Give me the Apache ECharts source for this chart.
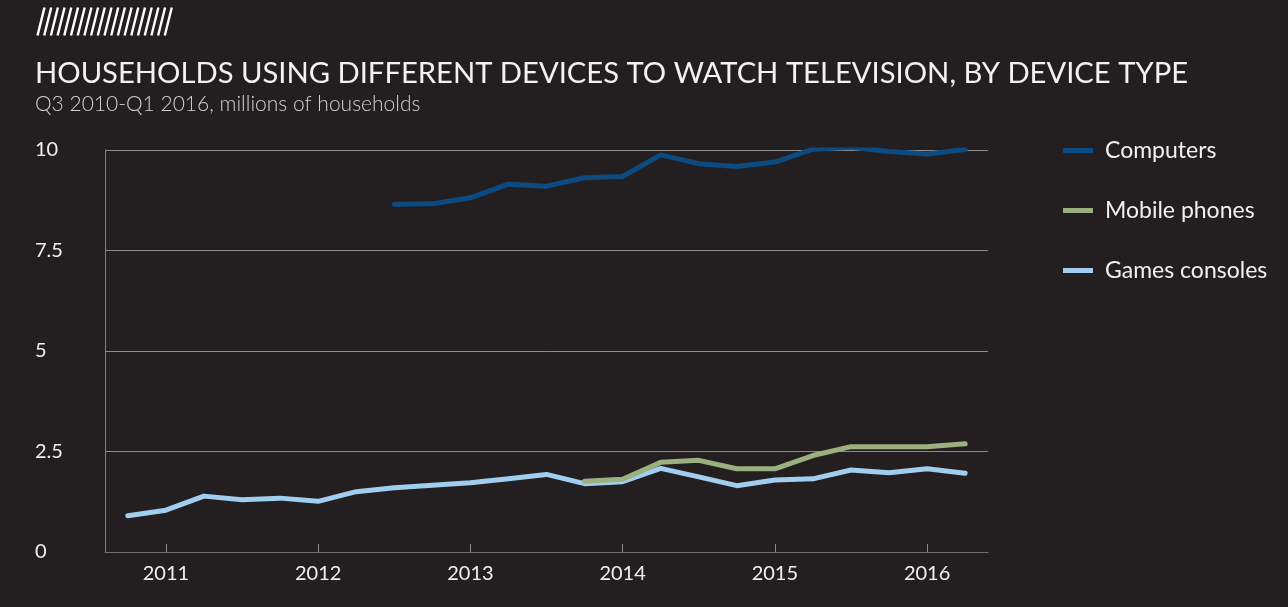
<!DOCTYPE html>
<html>
<head>
<meta charset="utf-8">
<title>Households using different devices to watch television</title>
<script src="https://cdn.jsdelivr.net/npm/echarts@6/dist/echarts.min.js"></script>
<style>
  html, body { margin: 0; padding: 0; background: #231f20; }
  #chart { width: 1288px; height: 607px; }
</style>
</head>
<body>
<div id="chart"></div>
<script>
// Quarterly observations, Q3 2010 – Q1 2016 (millions of households)
const quarters = [
  'Q3 2010', 'Q4 2010',
  'Q1 2011', 'Q2 2011', 'Q3 2011', 'Q4 2011',
  'Q1 2012', 'Q2 2012', 'Q3 2012', 'Q4 2012',
  'Q1 2013', 'Q2 2013', 'Q3 2013', 'Q4 2013',
  'Q1 2014', 'Q2 2014', 'Q3 2014', 'Q4 2014',
  'Q1 2015', 'Q2 2015', 'Q3 2015', 'Q4 2015',
  'Q1 2016'
];
const computers = [
  null, null, null, null, null, null, null,
  8.65, 8.66, 8.81, 9.15, 9.10, 9.31, 9.34,
  9.88, 9.66, 9.59, 9.70, 10.02, 10.07, 9.96, 9.90, 10.01
];
const mobilePhones = [
  null, null, null, null, null, null, null, null, null, null, null, null,
  1.76, 1.81, 2.23, 2.28, 2.07, 2.07, 2.40, 2.62, 2.62, 2.62, 2.69
];
const gamesConsoles = [
  0.90, 1.04, 1.39, 1.30, 1.34, 1.26, 1.50, 1.60, 1.66, 1.72, 1.82, 1.93,
  1.70, 1.75, 2.08, 1.87, 1.65, 1.79, 1.82, 2.04, 1.97, 2.07, 1.96
];
const yearTicks = [2011, 2012, 2013, 2014, 2015, 2016];
const yTicks = [0, 2.5, 5, 7.5, 10];

// Each quarter is plotted at the end of its period on a continuous year axis
function quarterPos(label) {
  const [q, y] = label.split(' ');
  return Number(y) + Number(q.slice(1)) / 4;
}
function pairs(values) {
  return quarters.map((q, i) => [quarterPos(q), values[i]]);
}

const FONT = 'Lato, "Noto Sans", sans-serif';

// Decorative hatched block above the title
const hatch = [];
for (let x = 0; x <= 134; x += 6.7) {
  hatch.push({
    type: 'line',
    shape: { x1: x, y1: 28, x2: x + 7, y2: 0 },
    style: { stroke: '#ffffff', lineWidth: 2.4 }
  });
}

const chart = echarts.init(document.getElementById('chart'), null, { renderer: 'canvas' });
chart.setOption({
  backgroundColor: '#231f20',
  animation: false,
  textStyle: { fontFamily: FONT },
  title: [
    {
      text: 'HOUSEHOLDS USING DIFFERENT DEVICES TO WATCH TELEVISION, BY DEVICE TYPE',
      left: 35, top: 59, padding: 0,
      textStyle: { color: '#f2f2f2', fontSize: 29.2, fontWeight: 'normal', fontFamily: FONT }
    },
    {
      text: 'Q3 2010-Q1 2016, millions of households',
      left: 35, top: 94, padding: 0,
      textStyle: { color: '#d0d0d0', fontSize: 21, fontWeight: 300, fontFamily: FONT }
    }
  ],
  graphic: [
    { type: 'group', left: 35, top: 5, children: hatch }
  ],
  legend: {
    orient: 'vertical',
    left: 1063, top: 139, padding: 0,
    icon: 'rect',
    itemWidth: 30, itemHeight: 5,
    itemGap: 37,
    textStyle: { color: '#f0f0f0', fontSize: 23, padding: [0, 0, 0, 7], fontFamily: FONT },
    data: ['Computers', 'Mobile phones', 'Games consoles']
  },
  grid: { left: 105, right: 300, top: 150, bottom: 55, containLabel: false },
  xAxis: {
    type: 'value',
    min: 2010.6, max: 2016.4,
    axisLine: { show: true, lineStyle: { color: '#707070', width: 1 } },
    axisTick: { show: true, inside: true, length: 8, customValues: yearTicks, lineStyle: { color: '#8a8a8a' } },
    axisLabel: {
      customValues: yearTicks,
      color: '#f0f0f0', fontSize: 20, margin: 12, fontFamily: FONT,
      formatter: v => String(v)
    },
    splitLine: { show: false }
  },
  yAxis: {
    type: 'value',
    min: 0, max: 10, interval: 2.5,
    axisLine: { show: true, lineStyle: { color: '#808080', width: 1 } },
    axisTick: { show: false },
    axisLabel: {
      color: '#f0f0f0', fontSize: 20, align: 'left', margin: 70, fontFamily: FONT,
      formatter: v => (yTicks.includes(v) ? String(v) : '')
    },
    splitLine: { show: true, lineStyle: { color: '#8c8c8c', width: 1 } }
  },
  series: [
    {
      name: 'Computers', type: 'line', data: pairs(computers),
      showSymbol: false, connectNulls: false, z: 3,
      lineStyle: { color: '#0c4a82', width: 5, cap: 'round', join: 'round' },
      itemStyle: { color: '#0c4a82' }
    },
    {
      name: 'Games consoles', type: 'line', data: pairs(gamesConsoles),
      showSymbol: false, z: 3,
      lineStyle: { color: '#a1cdee', width: 5, cap: 'round', join: 'round' },
      itemStyle: { color: '#a1cdee' }
    },
    {
      name: 'Mobile phones', type: 'line', data: pairs(mobilePhones),
      showSymbol: false, z: 4,
      lineStyle: { color: '#9cb07f', width: 5, cap: 'round', join: 'round' },
      itemStyle: { color: '#9cb07f' }
    }
  ]
});
</script>
</body>
</html>
